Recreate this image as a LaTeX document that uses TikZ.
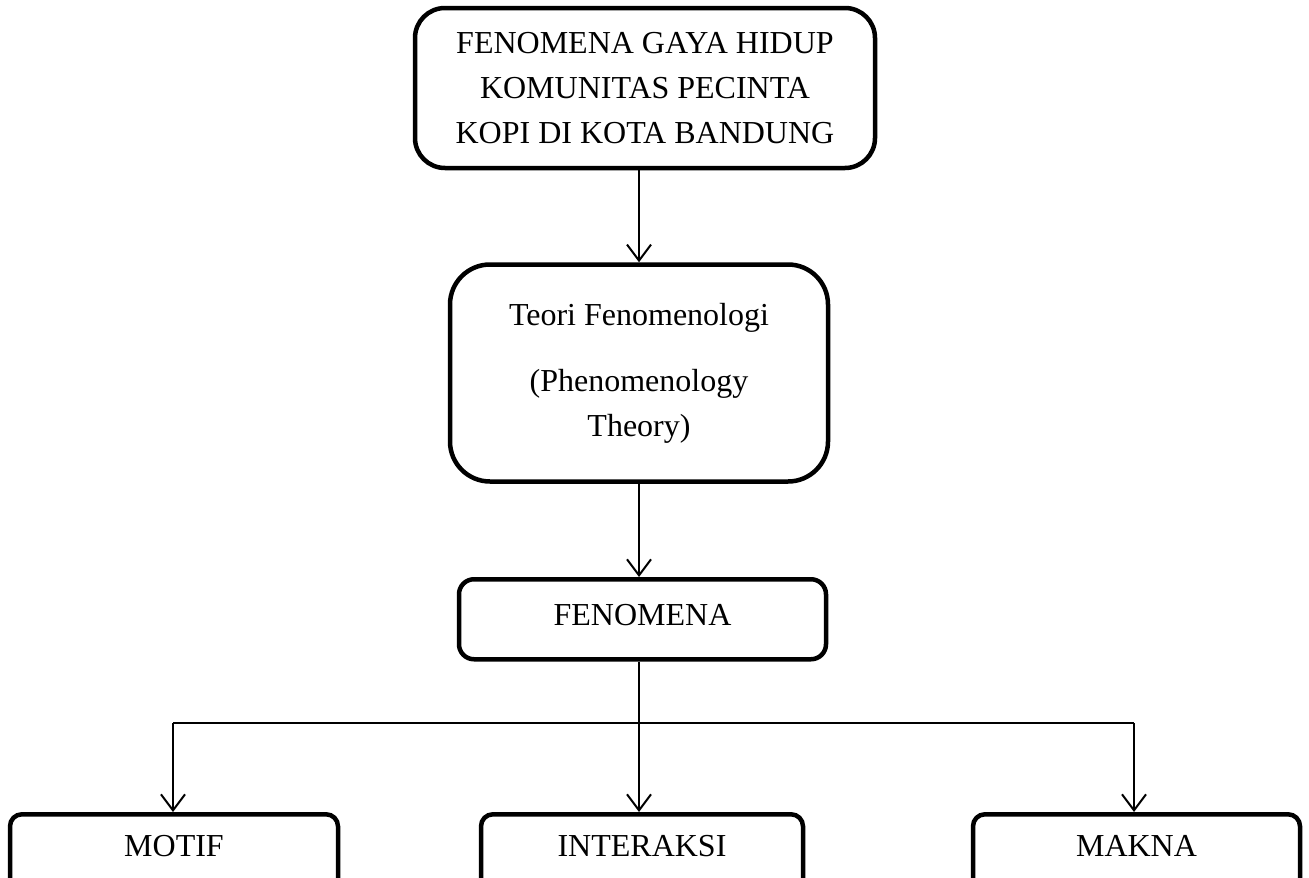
\documentclass[tikz,border=0pt]{standalone}
\usepackage{fontspec}
\setmainfont{Liberation Serif}
\usetikzlibrary{arrows.meta}
\tikzset{
  box/.style={draw=black, line width=4.5pt, fill=white, inner sep=0pt, align=center,
    font=\fontsize{32}{45}\selectfont},
  conn/.style={line width=2pt, -{Straight Barb[length=16pt,width=24pt,line width=2pt]}},
  plainline/.style={line width=2pt},
  branch/.style={line width=1.6pt},
}
\begin{document}
\begin{tikzpicture}[x=1pt,y=-1pt]
\useasboundingbox (0,0) rectangle (1309,878);
\node[box, rounded corners=30pt, minimum width=460pt, minimum height=160pt] (top) at (645,88)
  {FENOMENA GAYA HIDUP\\KOMUNITAS PECINTA\\KOPI DI KOTA BANDUNG};
\node[box, rounded corners=40pt, minimum width=378pt, minimum height=217pt] (teori) at (639,373)
  {Teori Fenomenologi\\[21pt](Phenomenology\\Theory)};
\node[box, rounded corners=15pt, anchor=north, minimum width=367pt, text height=46pt, text depth=34pt] (fen) at (642.5,577) {FENOMENA};
\node[box, rounded corners=12pt, anchor=north, minimum width=328pt, text height=42pt, text depth=60pt] (motif) at (174,812) {MOTIF};
\node[box, rounded corners=12pt, anchor=north, minimum width=322pt, text height=42pt, text depth=60pt] (inter) at (642,812) {INTERAKSI};
\node[box, rounded corners=12pt, anchor=north, minimum width=327pt, text height=42pt, text depth=60pt] (makna) at (1136.5,812) {MAKNA};
\coordinate (jl) at (173,723);
\coordinate (jm) at (639,723);
\coordinate (jr) at (1134,723);
\draw[conn] (top.south -| 639,0) -- (teori.north -| 639,0);
\draw[conn] (teori.south -| 639,0) -- (fen.north -| 639,0);
\draw[plainline] (fen.south -| jm) -- (jm);
\draw[branch] (jl) -- (jr);
\draw[conn] (jl) -- (motif.north -| jl);
\draw[conn] (jm) -- (inter.north -| jm);
\draw[conn] (jr) -- (makna.north -| jr);
\end{tikzpicture}
\end{document}
